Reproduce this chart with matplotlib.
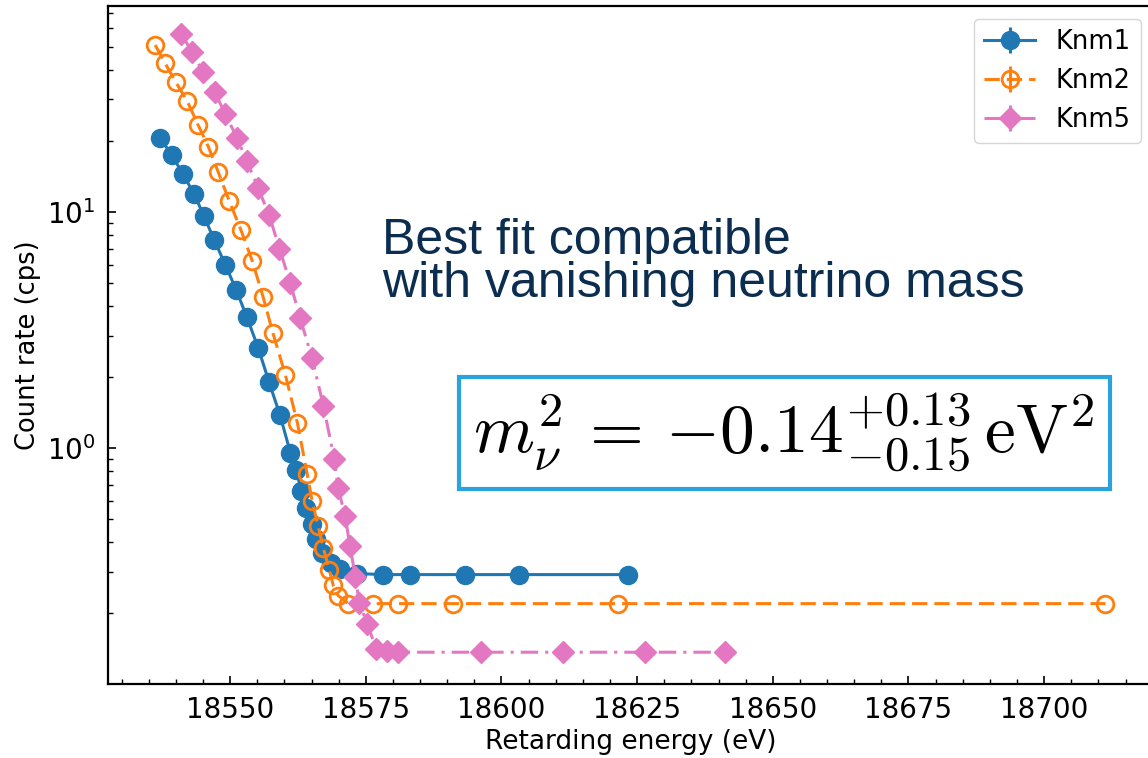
import numpy as np
import matplotlib
matplotlib.use("Agg")
import matplotlib.pyplot as plt

# Knm1 campaign
e_knm1 = [18537.1, 18539.3, 18541.3, 18543.4, 18545.2, 18547.1, 18549.1, 18551.1,
          18553.1, 18555.2, 18557.2, 18559.2, 18561.1, 18562.2, 18563.1, 18564.0,
          18565.0, 18565.9, 18567.0, 18568.5, 18570.3, 18573.4, 18578.2, 18583.2,
          18593.2, 18603.3, 18623.3]
r_knm1 = [20.6, 17.4, 14.5, 11.9, 9.6, 7.6, 6.0, 4.7,
          3.59, 2.65, 1.90, 1.38, 0.96, 0.81, 0.66, 0.557,
          0.476, 0.415, 0.359, 0.326, 0.307, 0.295, 0.292, 0.292,
          0.292, 0.292, 0.292]

# Knm2 campaign
e_knm2 = [18536.2, 18538.0, 18540.0, 18542.1, 18544.1, 18546.0, 18547.8, 18549.8,
          18552.0, 18554.1, 18556.1, 18557.9, 18560.2, 18562.4, 18564.2, 18565.1,
          18566.2, 18567.2, 18568.3, 18569.0, 18569.9, 18571.8, 18576.4, 18581.0,
          18591.0, 18621.4, 18711.3]
r_knm2 = [51.0, 42.8, 35.5, 29.5, 23.4, 18.9, 14.8, 11.2,
          8.4, 6.2, 4.36, 3.07, 2.04, 1.28, 0.78, 0.60,
          0.47, 0.377, 0.304, 0.263, 0.238, 0.22, 0.22, 0.22,
          0.22, 0.22, 0.22]

# Knm5 campaign
e_knm5 = [18541.0, 18543.0, 18545.0, 18547.2, 18549.1, 18551.3, 18553.1, 18555.2,
          18557.2, 18559.1, 18561.1, 18562.9, 18565.1, 18567.2, 18569.2, 18569.9,
          18571.2, 18572.1, 18573.1, 18573.8, 18575.3, 18576.9, 18579.0, 18581.0,
          18596.3, 18611.3, 18626.4, 18641.2]
r_knm5 = [56.8, 47.6, 39.2, 32.2, 26.0, 20.6, 16.4, 12.6,
          9.7, 7.0, 5.0, 3.56, 2.41, 1.51, 0.90, 0.68,
          0.515, 0.385, 0.284, 0.222, 0.18, 0.142, 0.138, 0.137,
          0.137, 0.137, 0.137, 0.137]

# error bars are tiny compared with the markers
err_knm1 = np.zeros(len(r_knm1))
err_knm2 = np.zeros(len(r_knm2))
err_knm5 = np.zeros(len(r_knm5))

fig = plt.figure(figsize=(11.48, 7.58), dpi=100)
ax = fig.add_axes([108 / 1148, 1 - 684 / 758, 1046 / 1148, 678 / 758])

ax.errorbar(e_knm1, r_knm1, yerr=err_knm1, fmt='o-', color='#1f77b4',
            markersize=13, linewidth=2.2, label='Knm1')
c2 = ax.errorbar(e_knm2, r_knm2, yerr=err_knm2, fmt='o--', color='#ff7f0e',
                 markerfacecolor='none', markeredgewidth=2, markersize=12,
                 linewidth=2.2, label='Knm2')
c2[0].set_dashes((5, 2.3))
c5 = ax.errorbar(e_knm5, r_knm5, yerr=err_knm5, fmt='D-.', color='#e377c2',
                 markersize=11.5, linewidth=2.2, label='Knm5')
c5[0].set_dashes((5.7, 2.3, 1, 2.3))

ax.set_yscale('log')
ax.set_xlim(18527.5, 18527.5 + 1046 / 5.427)
ax.set_ylim(0.1005, 74.6)
ax.set_xticks([18550, 18575, 18600, 18625, 18650, 18675, 18700])
ax.xaxis.set_minor_locator(matplotlib.ticker.MultipleLocator(5))
ax.tick_params(which='both', direction='in', top=False, right=False,
               labelsize=20, pad=9)
ax.tick_params(which='major', length=6, width=1.2)
ax.tick_params(which='minor', length=3.5, width=1)
for sp in ax.spines.values():
    sp.set_linewidth(1.6)

ax.set_xlabel('Retarding energy (eV)', fontsize=19, labelpad=3)
ax.set_ylabel('Count rate (cps)', fontsize=18.5, labelpad=4)

ax.legend(loc='upper right', fontsize=18.5, borderaxespad=0.5)

ax.text(0.262, 0.687, 'Best fit compatible\nwith vanishing neutrino mass',
        transform=ax.transAxes, fontsize=36, family='Liberation Sans',
        color='#0b2d4f', va='top', ha='left', linespacing=0.92)

ax.text(0.6466, 0.370,
        r'$m_{\nu}^{2}\, = \,{-0.14}^{+0.13}_{-0.15}\,\mathrm{eV}^{2}$',
        transform=ax.transAxes, fontsize=50, math_fontfamily='cm',
        ha='center', va='center',
        bbox=dict(boxstyle='square,pad=0.21', facecolor='white',
                  edgecolor='#29a3e0', linewidth=3))

fig.savefig('out.png', dpi=100)
